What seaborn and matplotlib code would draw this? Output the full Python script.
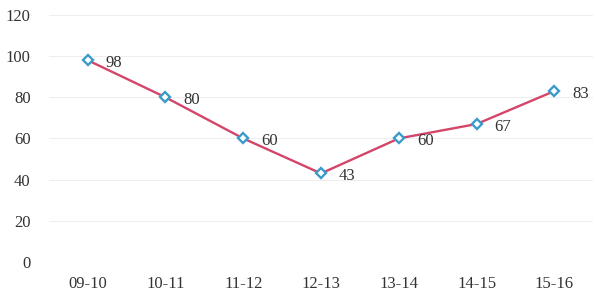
import matplotlib
matplotlib.use("Agg")
import matplotlib.pyplot as plt
import seaborn as sns
import pandas as pd

periods = ["09-10", "10-11", "11-12", "12-13", "13-14", "14-15", "15-16"]
values = [98, 80, 60, 43, 60, 67, 83]
y_ticks = [0, 20, 40, 60, 80, 100, 120]

sns.set_style("white")
plt.rcParams['font.family'] = ['Liberation Serif', 'DejaVu Serif']

df = pd.DataFrame({"period": periods, "value": values})

fig = plt.figure(figsize=(5.95, 2.99), dpi=100)
ax = fig.add_axes([0.082, 0.124, 0.915, 0.826])

sns.lineplot(data=df, x="period", y="value", ax=ax, color="#d4456a", linewidth=1.7,
             marker="D", markersize=5.5, markerfacecolor="white",
             markeredgecolor="#3a9ccc", markeredgewidth=1.7, sort=False)

for i, v in enumerate(values):
    ax.annotate(str(v), (i, v), xytext=(13, -2), textcoords="offset points",
                ha="left", va="center", fontsize=12, color="#333333")

ax.set_xlim(-0.5, 6.5)
ax.set_ylim(0, 120)
ax.set_yticks(y_ticks)
ax.set_xlabel("")
ax.set_ylabel("")
ax.grid(axis="y", color="#eeeeee", linewidth=0.8)
for s in ax.spines.values():
    s.set_visible(False)
ax.tick_params(axis="y", length=0, pad=13, labelsize=12, labelcolor="#333333")
ax.tick_params(axis="x", length=0, pad=10, labelsize=12, labelcolor="#333333")

fig.savefig("out.png", dpi=100)
